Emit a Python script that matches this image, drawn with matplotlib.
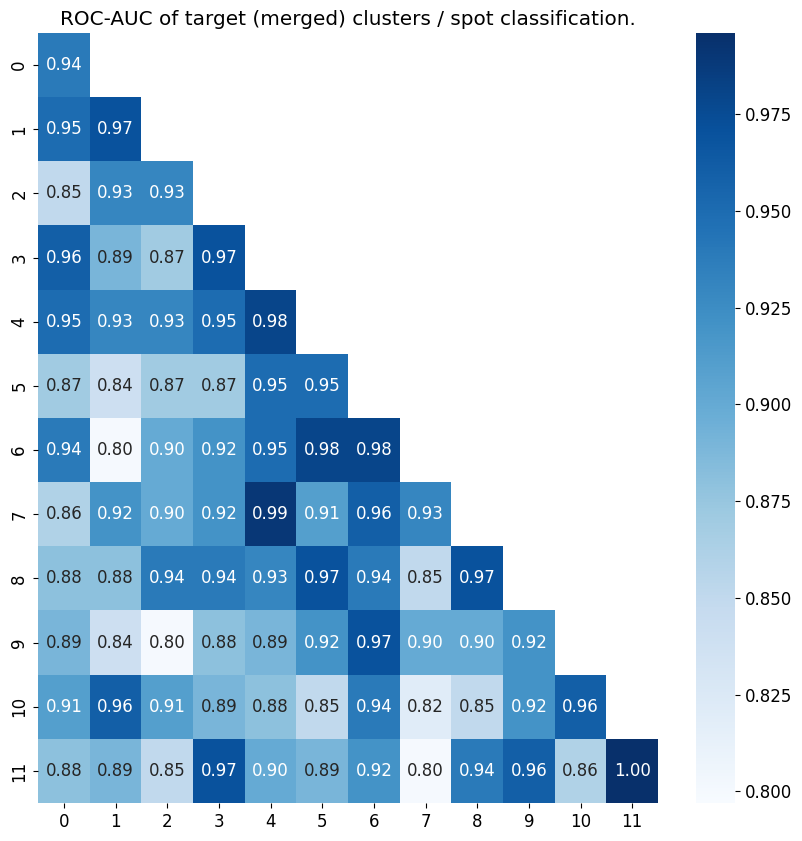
import numpy as np
import matplotlib
matplotlib.use('Agg')
import matplotlib.pyplot as plt
import seaborn as sns

# Lower-triangle ROC-AUC values, row by row
auc_rows = [
    [0.94],
    [0.95, 0.97],
    [0.85, 0.93, 0.93],
    [0.96, 0.89, 0.87, 0.97],
    [0.95, 0.93, 0.93, 0.95, 0.98],
    [0.87, 0.84, 0.87, 0.87, 0.95, 0.95],
    [0.94, 0.80, 0.90, 0.92, 0.95, 0.98, 0.98],
    [0.86, 0.92, 0.90, 0.92, 0.99, 0.91, 0.96, 0.93],
    [0.88, 0.88, 0.94, 0.94, 0.93, 0.97, 0.94, 0.85, 0.97],
    [0.89, 0.84, 0.80, 0.88, 0.89, 0.92, 0.97, 0.90, 0.90, 0.92],
    [0.91, 0.96, 0.91, 0.89, 0.88, 0.85, 0.94, 0.82, 0.85, 0.92, 0.96],
    [0.88, 0.89, 0.85, 0.97, 0.90, 0.89, 0.92, 0.80, 0.94, 0.96, 0.86, 1.00],
]
clusters = [str(i) for i in range(12)]

n = len(auc_rows)
mat = np.full((n, n), np.nan)
for i, row in enumerate(auc_rows):
    mat[i, :len(row)] = row
mask = np.triu(np.ones((n, n), dtype=bool), k=1)

plt.rcParams['font.size'] = 12

fig = plt.figure(figsize=(8.02, 8.41), dpi=100)
ax = fig.add_axes([38 / 802, 1 - 803 / 841, 620 / 802, 770 / 841])
cax = fig.add_axes([696 / 802, 1 - 803 / 841, 39 / 802, 770 / 841])

sns.heatmap(mat, mask=mask, cmap='Blues', annot=True, fmt='.2f',
            vmin=0.797, vmax=0.996, ax=ax, cbar_ax=cax,
            xticklabels=clusters, yticklabels=clusters,
            annot_kws={'fontsize': 12})
ax.set_title('ROC-AUC of target (merged) clusters / spot classification.', fontsize=14.4)
ax.tick_params(labelsize=12)
cax.tick_params(labelsize=12)

fig.savefig('out.png', dpi=100)
